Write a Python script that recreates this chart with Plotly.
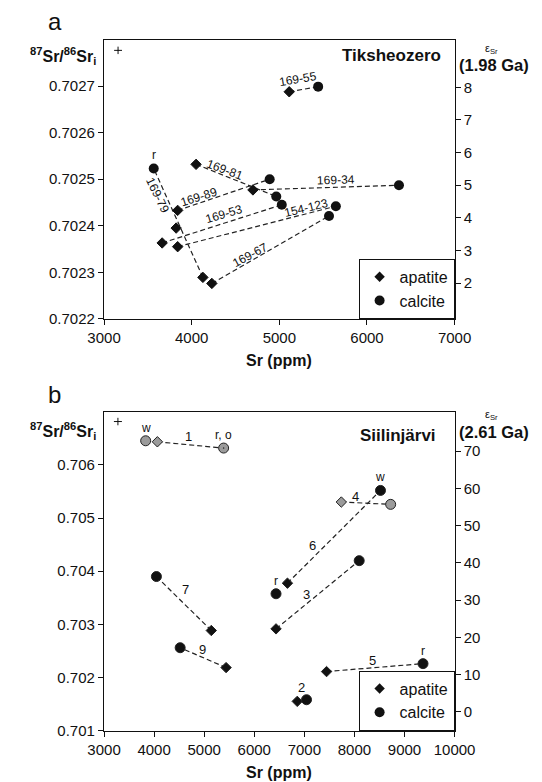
import math
import plotly.graph_objects as go

# ── Data: panel a, Tiksheozero (apatite / calcite pairs) ─────────────
samples_a = ["169-55", "169-79", "169-81", "169-89", "169-53", "154-123", "169-67", "169-34"]
apatite_sr_a = [5113, 4128, 4050, 3840, 3663, 3840, 4230, 4699]
apatite_r_a = [0.702688, 0.702289, 0.702532, 0.702433, 0.702363, 0.702355, 0.702276, 0.702477]
calcite_sr_a = [5443, 3567, 4965, 4890, 5028, 5645, 5567, 6365]
calcite_r_a = [0.702699, 0.702523, 0.702463, 0.702500, 0.702445, 0.702442, 0.702421, 0.702487]
calcite_tag_a = ["", "r", "", "", "", "", "", ""]
lone_apatite_sr_a = [3823]
lone_apatite_r_a = [0.702395]
err_a = dict(sr=3160, r=0.702777, dsr=45, dr=0.000008)

# ── Data: panel b, Siilinjärvi ───────────────────────────────────────
samples_b = ["1", "4", "6", "3", "5", "2", "7", "9"]
apatite_sr_b = [4065, 7738, 6662, 6434, 7443, 6858, 5142, 5437]
apatite_r_b = [0.706436, 0.705302, 0.703774, 0.702914, 0.702110, 0.701549, 0.702883, 0.702185]
calcite_sr_b = [5388, 8723, 8520, 8095, 9369, 7043, 4046, 4520]
calcite_r_b = [0.706318, 0.705258, 0.705520, 0.704198, 0.702259, 0.701580, 0.703899, 0.702559]
calcite_tag_b = ["r, o", "", "w", "", "r", "", "", ""]
grey_b = [True, True, False, False, False, False, False, False]
lone_calcite_sr_b = [3831, 6434]
lone_calcite_r_b = [0.706455, 0.703575]
lone_calcite_tag_b = ["w", "r"]
lone_calcite_grey_b = [True, False]
err_b = dict(sr=3277, r=0.706817, dsr=80, dr=0.00007)

# age-corrected uniform reservoir used for the eSr axes
R_UR_A = 0.702136   # 1.98 Ga
R_UR_B = 0.70135    # 2.61 Ga

# ── Geometry ─────────────────────────────────────────────────────────
W, H = 542, 782
X0, X1 = 85, 462
A_TOP, A_BOT = 32, 314
B_TOP, B_BOT = 408, 730
XA, YA = [3000, 7000], [0.7022, 0.7028]
XB, YB = [3000, 10000], [0.701, 0.707]

FONT = "Liberation Sans, Arial, sans-serif"
INK = "#111111"
GREY = "#9b9b9b"
DASH = "5px,3px"


def eps(r, r0):
    return (r / r0 - 1) * 1e4


def px(p):
    return p / W


def py(p):
    return 1 - p / H


def seg_label(text, x1, y1, x2, y2, t, off, xr, yr, top, bot, xref, yref):
    sx = (X1 - X0) / (xr[1] - xr[0])
    sy = (bot - top) / (yr[1] - yr[0])
    dx = (x2 - x1) * sx
    dy = -(y2 - y1) * sy
    if dx < 0:
        dx, dy = -dx, -dy
    th = math.atan2(dy, dx)
    return dict(
        x=x1 + t * (x2 - x1), y=y1 + t * (y2 - y1), xref=xref, yref=yref,
        text=text, showarrow=False, textangle=math.degrees(th),
        xshift=off * math.sin(th), yshift=off * math.cos(th),
        font=dict(family=FONT, size=12, color=INK),
    )


fig = go.Figure()
ann = []

# ── Panel a ──────────────────────────────────────────────────────────
for i in range(len(samples_a)):
    fig.add_trace(go.Scatter(
        x=[apatite_sr_a[i], calcite_sr_a[i]], y=[apatite_r_a[i], calcite_r_a[i]],
        mode="lines", line=dict(color="#222", width=1.2, dash=DASH),
        showlegend=False, hoverinfo="skip", xaxis="x", yaxis="y"))

fig.add_trace(go.Scatter(
    x=apatite_sr_a + lone_apatite_sr_a, y=apatite_r_a + lone_apatite_r_a, mode="markers",
    marker=dict(symbol="diamond", size=8, color=INK, line=dict(color=INK, width=1)),
    showlegend=False, xaxis="x", yaxis="y"))
fig.add_trace(go.Scatter(
    x=calcite_sr_a, y=calcite_r_a, mode="markers",
    marker=dict(symbol="circle", size=10, color=INK), showlegend=False,
    xaxis="x", yaxis="y"))
fig.add_trace(go.Scatter(
    x=[err_a["sr"]], y=[err_a["r"]], mode="markers", marker=dict(size=1, color=INK),
    error_x=dict(type="data", array=[err_a["dsr"]], width=0, thickness=1, color=INK),
    error_y=dict(type="data", array=[err_a["dr"]], width=0, thickness=1, color=INK),
    showlegend=False, xaxis="x", yaxis="y"))
# invisible trace so that the eSr axis is drawn
fig.add_trace(go.Scatter(x=[None], y=[None], showlegend=False, xaxis="x", yaxis="y2"))

# label placement along each segment (from apatite): (fraction, perpendicular offset px)
place_a = {"169-55": (0.38, 11), "169-79": (0.78, -7), "169-81": (0.34, 6),
           "169-89": (0.25, 6), "169-53": (0.54, 9), "154-123": (0.82, 6),
           "169-67": (0.35, 6), "169-34": (0.57, 7)}
for i, s in enumerate(samples_a):
    t, off = place_a[s]
    ann.append(seg_label(s, apatite_sr_a[i], apatite_r_a[i], calcite_sr_a[i], calcite_r_a[i],
                         t, off, XA, YA, A_TOP, A_BOT, "x", "y"))
    if calcite_tag_a[i]:
        ann.append(dict(x=calcite_sr_a[i], y=calcite_r_a[i], xref="x", yref="y",
                        text=calcite_tag_a[i], showarrow=False, yshift=14,
                        font=dict(family=FONT, size=12, color=INK)))

# ── Panel b ──────────────────────────────────────────────────────────
for i in range(len(samples_b)):
    fig.add_trace(go.Scatter(
        x=[apatite_sr_b[i], calcite_sr_b[i]], y=[apatite_r_b[i], calcite_r_b[i]],
        mode="lines", line=dict(color="#222", width=1.2, dash=DASH),
        showlegend=False, hoverinfo="skip", xaxis="x2", yaxis="y3"))

ap_col = [GREY if g else INK for g in grey_b]
fig.add_trace(go.Scatter(
    x=apatite_sr_b, y=apatite_r_b, mode="markers",
    marker=dict(symbol="diamond", size=8, color=ap_col, line=dict(color="#222", width=1)),
    showlegend=False, xaxis="x2", yaxis="y3"))
cc_sr = calcite_sr_b + lone_calcite_sr_b
cc_r = calcite_r_b + lone_calcite_r_b
cc_grey = grey_b + lone_calcite_grey_b
cc_tag = calcite_tag_b + lone_calcite_tag_b
cc_sym = ["circle-dot" if tg == "r, o" else "circle" for tg in cc_tag]
fig.add_trace(go.Scatter(
    x=cc_sr, y=cc_r, mode="markers",
    marker=dict(symbol=cc_sym, size=10, color=[GREY if g else INK for g in cc_grey],
                line=dict(color="#222", width=1)),
    showlegend=False, xaxis="x2", yaxis="y3"))
fig.add_trace(go.Scatter(
    x=[err_b["sr"]], y=[err_b["r"]], mode="markers", marker=dict(size=1, color=INK),
    error_x=dict(type="data", array=[err_b["dsr"]], width=0, thickness=1, color=INK),
    error_y=dict(type="data", array=[err_b["dr"]], width=0, thickness=1, color=INK),
    showlegend=False, xaxis="x2", yaxis="y3"))
fig.add_trace(go.Scatter(x=[None], y=[None], showlegend=False, xaxis="x2", yaxis="y4"))

place_b = {"1": (0.47, 0, 8), "4": (0.29, 0, 6), "6": (0.31, -4, 9), "3": (0.40, -3, 7),
           "5": (0.48, 0, 7), "2": (0.43, 0, 13), "7": (0.55, 4, 11), "9": (0.51, 0, 8)}
for i, s in enumerate(samples_b):
    t, xs, ys = place_b[s]
    ann.append(dict(x=apatite_sr_b[i] + t * (calcite_sr_b[i] - apatite_sr_b[i]),
                    y=apatite_r_b[i] + t * (calcite_r_b[i] - apatite_r_b[i]),
                    xref="x2", yref="y3", text=s, showarrow=False, xshift=xs, yshift=ys,
                    font=dict(family=FONT, size=13, color=INK)))
for x, y, tg in zip(cc_sr, cc_r, cc_tag):
    if tg:
        ann.append(dict(x=x, y=y, xref="x2", yref="y3", text=tg, showarrow=False,
                        yshift=13, font=dict(family=FONT, size=12, color=INK)))

# legend entries
for lg in ["legend", "legend2"]:
    fig.add_trace(go.Scatter(x=[None], y=[None], mode="markers", name="apatite",
                             marker=dict(symbol="diamond", size=8, color=INK), legend=lg,
                             xaxis="x", yaxis="y"))
    fig.add_trace(go.Scatter(x=[None], y=[None], mode="markers", name="calcite",
                             marker=dict(symbol="circle", size=10, color=INK), legend=lg,
                             xaxis="x", yaxis="y"))

# ── Text around the panels ───────────────────────────────────────────
def txt(x, y, s, size, xanchor="center", bold=False):
    return dict(x=px(x), y=py(y), xref="paper", yref="paper", showarrow=False,
                text=f"<b>{s}</b>" if bold else s, xanchor=xanchor, yanchor="middle",
                font=dict(family=FONT, size=size, color=INK))


ytitle = "<sup>87</sup>Sr/<sup>86</sup>Sr<sub>i</sub>"
for top, bot, panel, site, site_x, site_dy, title_dy, eps_dy, age, age_dy in [
        (A_TOP, A_BOT, "a", "Tiksheozero", 449, 16, 16, 9, "(1.98 Ga)", 26),
        (B_TOP, B_BOT, "b", "Siilinjärvi", 444, 24, 19, 3, "(2.61 Ga)", 20)]:
    ann.append(txt(32, top - 18, panel, 24))
    ann.append(txt(79, top + title_dy, ytitle, 16, "right", True))
    ann.append(txt(site_x, top + site_dy, site, 17, "right", True))
    ann.append(txt(502, top + eps_dy, "ε<sub>Sr</sub>", 11))
    ann.append(txt(504, top + age_dy, age, 16.5, bold=True))
    ann.append(txt((X0 + X1) / 2, bot + 42, "Sr (ppm)", 16, bold=True))

ax = dict(showline=True, linecolor=INK, linewidth=1.3, ticks="outside", ticklen=5,
          tickcolor=INK, tickwidth=1.2, showgrid=False, zeroline=False,
          tickfont=dict(family=FONT, size=15, color=INK))
leg = dict(xanchor="right", yanchor="bottom", bordercolor=INK, borderwidth=1,
           bgcolor="white", font=dict(family=FONT, size=16, color=INK),
           itemwidth=30, tracegroupgap=0)

fig.update_layout(
    width=W, height=H, margin=dict(l=0, r=0, t=0, b=0),
    paper_bgcolor="white", plot_bgcolor="white", annotations=ann,
    xaxis=dict(ax, domain=[px(X0), px(X1)], range=XA, anchor="y", mirror=True,
               tickvals=list(range(3000, 7001, 1000)), tickformat="d"),
    yaxis=dict(ax, domain=[py(A_BOT), py(A_TOP)], range=YA, anchor="x",
               tickvals=[0.7022, 0.7023, 0.7024, 0.7025, 0.7026, 0.7027], tickformat=".4f"),
    yaxis2=dict(ax, overlaying="y", side="right", anchor="x",
                range=[eps(YA[0], R_UR_A), eps(YA[1], R_UR_A)], tickvals=list(range(2, 9))),
    xaxis2=dict(ax, domain=[px(X0), px(X1)], range=XB, anchor="y3", mirror=True,
                tickvals=list(range(3000, 10001, 1000)), tickformat="d"),
    yaxis3=dict(ax, domain=[py(B_BOT), py(B_TOP)], range=YB, anchor="x2",
                tickvals=[0.701, 0.702, 0.703, 0.704, 0.705, 0.706], tickformat=".3f"),
    yaxis4=dict(ax, overlaying="y3", side="right", anchor="x2",
                range=[eps(YB[0], R_UR_B), eps(YB[1], R_UR_B)], tickvals=list(range(0, 71, 10))),
    legend=dict(leg, x=px(X1), y=py(A_BOT)),
    legend2=dict(leg, x=px(X1), y=py(B_BOT)),
)

fig.write_html("out.html")
